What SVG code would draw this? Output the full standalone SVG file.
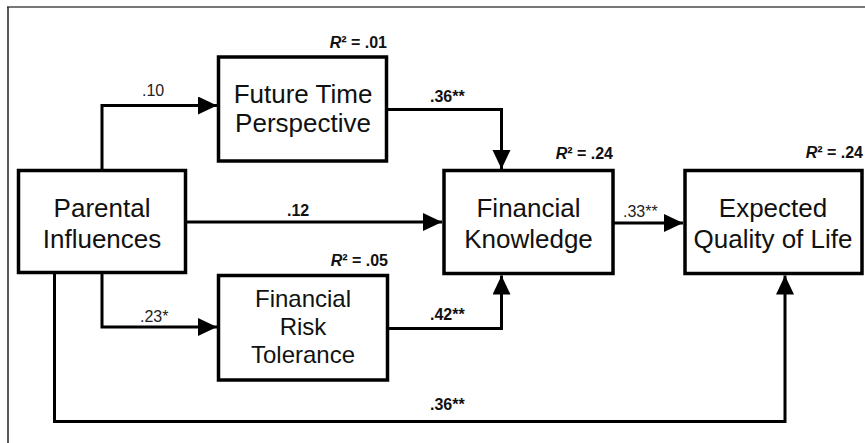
<svg xmlns="http://www.w3.org/2000/svg" width="865" height="443" viewBox="0 0 865 443">
  <defs>
    <marker id="arrow" markerUnits="userSpaceOnUse" markerWidth="20" markerHeight="20" refX="19" refY="9" orient="auto">
      <path d="M0,0 L19,9 L0,18 Z" fill="#000"/>
    </marker>
    <style>
      .box { fill: #fff; stroke: #000; stroke-width: 3.5; }
      .node-text { font-family: "Liberation Sans", Arial, sans-serif; font-size: 26px; fill: #111; text-anchor: middle; }
      .node-text-3 { font-family: "Liberation Sans", Arial, sans-serif; font-size: 24px; fill: #111; text-anchor: middle; }
      .link { fill: none; stroke: #000; stroke-width: 3; }
      .coef { font-family: "Liberation Sans", Arial, sans-serif; font-size: 16px; fill: #222; }
      .coef-bold { font-family: "Liberation Sans", Arial, sans-serif; font-size: 16px; font-weight: bold; fill: #111; }
      .r2 { font-family: "Liberation Sans", Arial, sans-serif; font-size: 16px; font-weight: bold; fill: #111; text-anchor: end; }
    </style>
  </defs>

  <rect width="865" height="443" fill="#fff"/>

  <!-- page frame -->
  <line x1="7" y1="7" x2="865" y2="7" stroke="#777" stroke-width="2"/>
  <line x1="8" y1="7" x2="8" y2="443" stroke="#222" stroke-width="1.5"/>

  <!-- connectors -->
  <g id="connectors">
    <path class="link" d="M102 170.5 V105.5 H217" marker-end="url(#arrow)"/>
    <path class="link" d="M386.5 109.5 H501.5 V169" marker-end="url(#arrow)"/>
    <path class="link" d="M185.5 222 H442" marker-end="url(#arrow)"/>
    <path class="link" d="M613 223 H683" marker-end="url(#arrow)"/>
    <path class="link" d="M102 272.5 V327 H217" marker-end="url(#arrow)"/>
    <path class="link" d="M387.5 328.5 H501.5 V275.5" marker-end="url(#arrow)"/>
    <path class="link" d="M54.5 272.5 V421.5 H785 V275.5" marker-end="url(#arrow)"/>

    <text class="coef" x="142" y="96">.10</text>
    <text class="coef-bold" x="430" y="102">.36**</text>
    <text class="coef-bold" x="287" y="216">.12</text>
    <text class="coef" x="623" y="217">.33**</text>
    <text class="coef" x="140" y="322">.23*</text>
    <text class="coef-bold" x="430" y="320">.42**</text>
    <text class="coef-bold" x="430" y="410">.36**</text>
  </g>

  <g id="parental-influences">
    <rect class="box" x="18.5" y="170.5" width="167" height="102"/>
    <text class="node-text" x="102" y="217">Parental</text>
    <text class="node-text" x="102" y="248">Influences</text>
  </g>

  <g id="future-time-perspective">
    <rect class="box" x="218.5" y="57" width="168" height="104"/>
    <text class="node-text" x="303" y="103">Future Time</text>
    <text class="node-text" x="303" y="132">Perspective</text>
    <text class="r2" x="387" y="48"><tspan font-style="italic">R</tspan>² = .01</text>
  </g>

  <g id="financial-risk-tolerance">
    <rect class="box" x="218.5" y="275.5" width="169" height="104.5"/>
    <text class="node-text-3" x="303" y="307">Financial</text>
    <text class="node-text-3" x="303" y="335">Risk</text>
    <text class="node-text-3" x="303" y="363">Tolerance</text>
    <text class="r2" x="388" y="266"><tspan font-style="italic">R</tspan>² = .05</text>
  </g>

  <g id="financial-knowledge">
    <rect class="box" x="444" y="170.5" width="169" height="103"/>
    <text class="node-text" x="528.5" y="217">Financial</text>
    <text class="node-text" x="528.5" y="248">Knowledge</text>
    <text class="r2" x="613" y="159"><tspan font-style="italic">R</tspan>² = .24</text>
  </g>

  <g id="expected-quality-of-life">
    <rect class="box" x="685" y="170.5" width="177" height="103"/>
    <text class="node-text" x="773" y="217">Expected</text>
    <text class="node-text" x="773" y="248">Quality of Life</text>
    <text class="r2" x="863" y="158"><tspan font-style="italic">R</tspan>² = .24</text>
  </g>
</svg>
